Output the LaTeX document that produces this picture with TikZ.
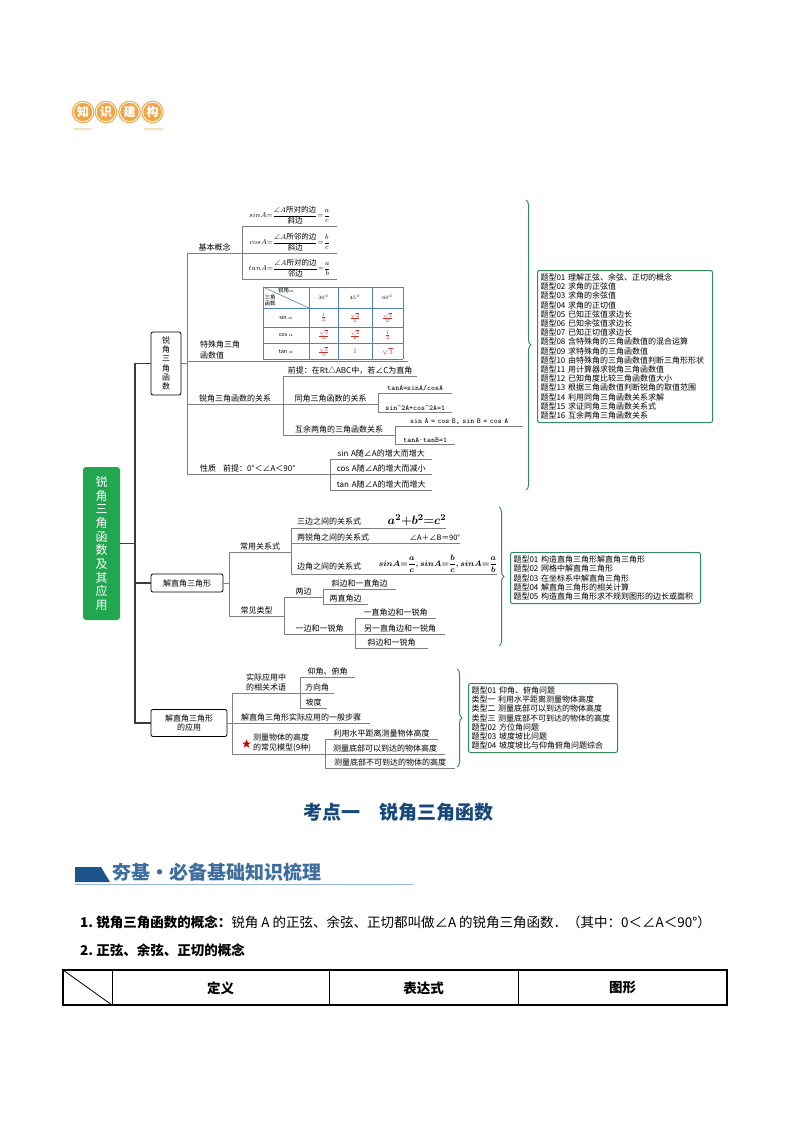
\documentclass[tikz,border=0pt]{standalone}
\usepackage{amsmath}
\usepackage{amssymb}
\usepackage{fontspec}
\setmainfont{Noto Sans CJK SC}
\usepackage{tikz}
\usetikzlibrary{decorations.pathreplacing}
\usetikzlibrary{shapes.geometric}

\definecolor{lngray}{RGB}{128,128,128}
\definecolor{trunkgray}{RGB}{60,60,60}
\definecolor{rootgreen}{RGB}{34,166,80}
\definecolor{bracegreen}{RGB}{46,140,90}
\definecolor{tabblue}{RGB}{79,129,189}
\definecolor{valred}{RGB}{200,45,45}
\definecolor{badgeorange}{RGB}{240,166,70}
\definecolor{titleblue}{RGB}{22,72,122}
\definecolor{secblue}{RGB}{28,84,140}
\definecolor{seclight}{RGB}{150,180,215}

\newcommand{\mmfont}{\fontsize{8}{9.2}\selectfont}
\newcommand{\fxfont}{\fontsize{7.5}{9}\selectfont}
\newcommand{\parafont}{\fontsize{13.5}{15}\selectfont}

\tikzset{
  ln/.style={draw=lngray, line width=0.8pt},
  trunk/.style={draw=trunkgray, line width=1.4pt},
  leaf/.style={anchor=south west, inner xsep=0pt, inner ysep=1.5pt,
    text width=#1, align=center, font=\mmfont,
    append after command={(\tikzlastnode.south west) edge[ln] (\tikzlastnode.south east)}},
  code/.style={font=\ttfamily\fontsize{7.5}{9}\selectfont},
  rootbox/.style={fill=rootgreen, rounded corners=3pt, text=white, align=center,
    font=\fontsize{12}{13.7}\selectfont, inner sep=0pt},
  mbox/.style={draw=black, fill=white, rounded corners=2pt, line width=0.8pt,
    font=\mmfont, align=center, inner sep=0pt},
  tibox/.style={draw=bracegreen, rounded corners=2pt, line width=1pt,
    font=\mmfont, align=left, anchor=north west, inner xsep=3pt, inner ysep=0pt},
  brc/.style={draw=bracegreen, line width=1pt, decorate, decoration={brace, amplitude=5pt}},
  tabln/.style={draw=tabblue, line width=0.6pt},
  tabtxt/.style={font=\fontsize{5.5}{6.5}\selectfont, inner sep=0pt},
  tabval/.style={font=\fontsize{7}{8}\selectfont, inner sep=0pt, text=valred},
  badge/.style={circle, fill=badgeorange, draw=badgeorange, double=white, double distance=0.8pt,
    line width=1.1pt, minimum size=19.5pt, inner sep=0pt, text=white,
    font=\fontsize{12}{12}\selectfont\bfseries},
  th/.style={font=\parafont\bfseries, inner sep=0pt},
}

\begin{document}
\begin{tikzpicture}[x=1pt,y=-1pt]
        \useasboundingbox (0,0) rectangle (794,1123);

        % Header badge
        \foreach \x/\ch [count=\i] in {83/知,106/识,129.5/建,152.5/构}
            \node[badge] (bd\i) at (\x,112) {\ch};
        \fill[badgeorange!35] (74,128) rectangle (92,130);
        \fill[badgeorange!35] (144,128) rectangle (163,130);

        % Root and main boxes
        \node[rootbox, minimum width=37pt, minimum height=153pt] (root) at (101.5,543.5)
            {锐\\角\\三\\角\\函\\数\\及\\其\\应\\用};
        \node[mbox, minimum width=30pt, minimum height=63pt, font=\fontsize{8}{9.3}\selectfont]
            (ruijiao) at (166,363.5) {锐\\角\\三\\角\\函\\数};
        \node[mbox, minimum width=72pt, minimum height=18pt] (jiezhi) at (187,583) {解直角三角形};
        \node[mbox, minimum width=76pt, minimum height=27pt] (yingyong) at (189,723) {解直角三角形\\的应用};

        % Trunk
        \coordinate (tk) at (135,543.5);
        \draw[trunk] (root.east) -- (tk);
        \draw[trunk] (ruijiao.west) -- (ruijiao.west -| tk) -- (yingyong.west -| tk) -- (yingyong.west);
        \draw[trunk] (jiezhi.west -| tk) -- (jiezhi.west);

        % Branch 1
        \node[leaf=55pt] (jbgn) at (187,253) {基本概念};
        \node[leaf=95pt, font=\fxfont, inner ysep=2pt] (sinA) at (242,226)
            {${sinA}{=}\dfrac{\angle A\text{所对的边}}{\text{斜边}}{=}\dfrac{a}{c}$};
        \node[leaf=95pt, font=\fxfont, inner ysep=2pt] (cosA) at (242,253)
            {${cosA}{=}\dfrac{\angle A\text{所邻的边}}{\text{斜边}}{=}\dfrac{b}{c}$};
        \node[leaf=95pt, font=\fxfont, inner ysep=2pt] (tanA) at (242,279)
            {${tanA}{=}\dfrac{\angle A\text{所对的边}}{\text{邻边}}{=}\dfrac{a}{b}$};
        \node[leaf=221pt, align=left, font=\fontsize{8}{11.5}\selectfont] (tsj) at (187,361)
            {\hspace*{13pt}特殊角三角\\\hspace*{13pt}函数值};
        \node[leaf=96pt] (gx) at (187,404) {锐角三角函数的关系};
        \node[leaf=134pt] (qt) at (283,376) {前提：在Rt△ABC中，若∠C为直角};
        \node[leaf=95pt] (tj) at (283,404) {同角三角函数的关系};
        \node[leaf=112pt] (hy) at (283,435) {互余两角的三角函数关系};
        \node[leaf=74pt, code] (tj1) at (378,393) {tanA=sinA/cosA};
        \node[leaf=74pt, code] (tj2) at (378,412) {sin\textasciicircum 2A+cos\textasciicircum 2A=1};
        \node[leaf=128pt, code] (hy1) at (395,426) {sin A = cos B, sin B = cos A};
        \node[leaf=60pt, code] (hy2) at (395,444) {tanA·tanB=1};
        \node[leaf=143pt, align=left] (xz) at (187,474) {\hspace*{13pt}性质\hspace{7pt}前提：0°＜∠A＜90°};
        \node[leaf=102pt] (xz1) at (330,459) {sin A随∠A的增大而增大};
        \node[leaf=102pt] (xz2) at (330,474) {cos A随∠A的增大而减小};
        \node[leaf=102pt] (xz3) at (330,490) {tan A随∠A的增大而增大};

        \draw[ln] (ruijiao.east) -- (ruijiao.east -| jbgn.south west);
        \draw[ln] (jbgn.south west) -- (xz.south west);
        \draw[ln] (sinA.south west) -- (tanA.south west);
        \draw[ln] (qt.south west) -- (hy.south west);
        \draw[ln] (tj1.south west) -- (tj2.south west);
        \draw[ln] (hy1.south west) -- (hy2.south west);
        \draw[ln] (xz1.south west) -- (xz3.south west);

        % Table of special angles
        \foreach \x in {263,309,338,372,403}
            \draw[tabln] (\x,287) -- (\x,359);
        \foreach \y in {287,308,327,343,359}
            \draw[tabln] (263,\y) -- (403,\y);
        \draw[tabln] (263,287) -- (309,308);
        \node[tabtxt] (tha) at (286,290.5) {锐角$\alpha$};
        \node[tabtxt, align=left] (thb) at (270,300.5) {三角\\函数};
        \foreach \x/\ang [count=\i] in {323.5/30,355/45,387.5/60}
            \node[tabtxt] (ang\i) at (\x,297.5) {$\ang^\circ$};
        \foreach \y/\fn [count=\i] in {317.5/sin,335/cos,351.5/tan}
            \node[tabtxt] (fn\i) at (286,\y) {\fn\ $\alpha$};
        \foreach \y/\va/\vb/\vc [count=\i] in {317.5/{\frac{1}{2}}/{\frac{\sqrt{2}}{2}}/{\frac{\sqrt{3}}{2}},
                335/{\frac{\sqrt{3}}{2}}/{\frac{\sqrt{2}}{2}}/{\frac{1}{2}},
                351.5/{\frac{\sqrt{3}}{3}}/{1}/{\sqrt{3}}} {
            \node[tabval] (va\i) at (323.5,\y) {$\va$};
            \node[tabval] (vb\i) at (355,\y) {$\vb$};
            \node[tabval] (vc\i) at (387.5,\y) {$\vc$};
        }

        % Branch 2
        \node[leaf=62pt] (cygx) at (229,552) {常用关系式};
        \node[leaf=155pt, align=left] (sb) at (291,528)
            {\hspace*{6pt}三边之间的关系式\hfill{\fontsize{13}{14}\selectfont\boldmath${a^2}{+}{b^2}{=}{c^2}$}\hspace*{6pt}};
        \node[leaf=169pt, align=left] (rj) at (291,543)
            {\hspace*{6pt}两锐角之间的关系式\hfill{\fontsize{7.5}{9}\selectfont ∠A＋∠B＝90°}\hspace*{10pt}};
        \node[leaf=206pt, align=left] (bj) at (291,574)
            {\hspace*{6pt}边角之间的关系式\hfill\raisebox{3pt}{\fontsize{8.5}{10}\selectfont\boldmath${sinA}{=}\dfrac{a}{c},{sinA}{=}\dfrac{b}{c},{sinA}{=}\dfrac{a}{b}$}\hspace*{5pt}};
        \node[leaf=55pt] (cjlx) at (229,616) {常见类型};
        \node[leaf=39pt] (lb) at (284,597) {两边};
        \node[leaf=71pt] (yb) at (284,634) {一边和一锐角};
        \node[leaf=73pt] (lb1) at (323,589) {斜边和一直角边};
        \node[leaf=45pt] (lb2) at (323,604) {两直角边};
        \node[leaf=81pt] (yb1) at (355,618) {一直角边和一锐角};
        \node[leaf=90pt] (yb2) at (355,634) {另一直角边和一锐角};
        \node[leaf=73pt] (yb3) at (355,648) {斜边和一锐角};

        \draw[ln] (jiezhi.east) -- (jiezhi.east -| cygx.south west);
        \draw[ln] (cygx.south west) -- (cjlx.south west);
        \draw[ln] (sb.south west) -- (bj.south west);
        \draw[ln] (lb.south west) -- (yb.south west);
        \draw[ln] (lb1.south west) -- (lb2.south west);
        \draw[ln] (yb1.south west) -- (yb3.south west);

        % Branch 3
        \node[leaf=68pt, font=\fontsize{8}{10}\selectfont] (sysy) at (232,693) {实际应用中\\的相关术语};
        \node[leaf=55pt] (sy1) at (300,677) {仰角、俯角};
        \node[leaf=34pt] (sy2) at (300,693) {方向角};
        \node[leaf=27pt] (sy3) at (300,708) {坡度};
        \node[leaf=138pt] (bz) at (232,723) {解直角三角形实际应用的一般步骤};
        \node[leaf=93pt, align=left, font=\fontsize{8}{10}\selectfont] (cl) at (232,754)
            {\hspace*{21pt}测量物体的高度\\\hspace*{21pt}的常见模型(9种)};
        \node[star, star points=5, star point ratio=2.4, fill=red!80!black, minimum size=9pt, inner sep=0pt] (xing) at (246.5,744) {};
        \node[leaf=113pt] (cl1) at (325,739) {利用水平距离测量物体高度};
        \node[leaf=120pt] (cl2) at (325,754) {测量底部可以到达的物体高度};
        \node[leaf=130pt] (cl3) at (325,768) {测量底部不可到达的物体的高度};

        \draw[ln] (yingyong.east) -- (yingyong.east -| bz.south west);
        \draw[ln] (sysy.south west) -- (cl.south west);
        \draw[ln] (sy1.south west) -- (sy3.south west);
        \draw[ln] (cl1.south west) -- (cl3.south west);

        % Braces and question types
        \draw[brc] (526,200) -- (526,490);
        \draw[brc] (499,507) -- (499,646);
        \draw[brc] (457,669) -- (457,767);
        \node[tibox, minimum width=175pt, minimum height=152pt, text width=169pt] (tx1) at (537,270)
            {题型01~理解正弦、余弦、正切的概念\\
             题型02~求角的正弦值\\
             题型03~求角的余弦值\\
             题型04~求角的正切值\\
             题型05~已知正弦值求边长\\
             题型06~已知余弦值求边长\\
             题型07~已知正切值求边长\\
             题型08~含特殊角的三角函数值的混合运算\\
             题型09~求特殊角的三角函数值\\
             题型10~由特殊角的三角函数值判断三角形形状\\
             题型11~用计算器求锐角三角函数值\\
             题型12~已知角度比较三角函数值大小\\
             题型13~根据三角函数值判断锐角的取值范围\\
             题型14~利用同角三角函数关系求解\\
             题型15~求证同角三角函数关系式\\
             题型16~互余两角三角函数关系};
        \node[tibox, minimum width=190pt, minimum height=51pt, text width=184pt] (tx2) at (510,552)
            {题型01~构造直角三角形解直角三角形\\
             题型02~网格中解直角三角形\\
             题型03~在坐标系中解直角三角形\\
             题型04~解直角三角形的相关计算\\
             题型05~构造直角三角形求不规则图形的边长或面积};
        \node[tibox, minimum width=149pt, minimum height=69pt, text width=143pt] (tx3) at (468,683)
            {题型01~仰角、俯角问题\\
             类型一~利用水平距离测量物体高度\\
             类型二~测量底部可以到达的物体高度\\
             类型三~测量底部不可到达的物体的高度\\
             题型02~方位角问题\\
             题型03~坡度坡比问题\\
             题型04~坡度坡比与仰角俯角问题综合};

        % Title and section heading
        \node[font=\fontsize{19}{19}\selectfont\bfseries, text=titleblue] (kaodian) at (398.5,812)
            {考点一\hspace{1em}锐角三角函数};
        \fill[secblue] (75,867) -- (101,867) -- (110,882) -- (75,882) -- cycle;
        \node[anchor=west, inner sep=0pt, font=\fontsize{19}{19}\selectfont\bfseries, text=secblue!85!white] (hangji) at (112,872)
            {夯基·必备基础知识梳理};
        \draw[seclight, line width=0.8pt] (75,884) -- (413,884);

        % Text lines
        \node[anchor=west, inner sep=0pt, font=\parafont] (p1) at (80,922)
            {{\bfseries 1.\ 锐角三角函数的概念：}锐角 A 的正弦、余弦、正切都叫做∠A 的锐角三角函数．（其中：0＜∠A＜90°）};
        \node[anchor=west, inner sep=0pt, font=\parafont\bfseries] (p2) at (80,950)
            {2.\ 正弦、余弦、正切的概念};

        % Concept table head
        \draw[line width=1.6pt] (63,970) rectangle (727,1005);
        \foreach \x in {112,329,518}
            \draw[line width=0.8pt] (\x,970) -- (\x,1005);
        \draw[line width=0.8pt] (63,970) -- (112,1005);
        \node[th] (dingyi) at (220.5,988) {定义};
        \node[th] (biaoda) at (423.5,988) {表达式};
        \node[th] (tuxing) at (622.5,988) {图形};
    \end{tikzpicture}
\end{document}
